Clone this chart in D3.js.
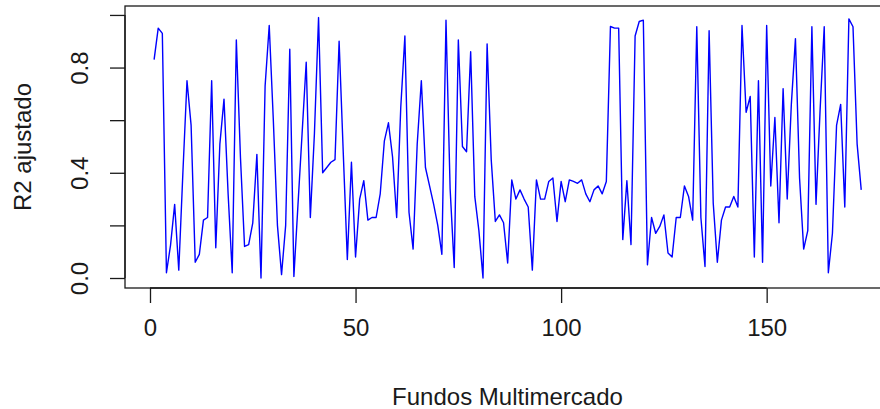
<!DOCTYPE html>
<html>
<head>
<meta charset="utf-8">
<script src="https://cdn.jsdelivr.net/npm/d3@7"></script>
<style>
  html, body { margin: 0; padding: 0; background: #fff; }
  svg { display: block; font-family: "Liberation Sans", Arial, sans-serif; }
</style>
</head>
<body>
<svg id="chart" width="880" height="409"></svg>
<script>
// Adjusted R² of each multimarket fund, in fund order (1..173)
const r2Values = [
  0.83, 0.95, 0.93, 0.02, 0.125, 0.28, 0.03, 0.40, 0.75, 0.58,
  0.06, 0.09, 0.22, 0.23, 0.75, 0.115, 0.51, 0.68, 0.32, 0.02,
  0.905, 0.46, 0.12, 0.127, 0.21, 0.47, 0.00, 0.73, 0.96, 0.60,
  0.20, 0.013, 0.20, 0.87, 0.006, 0.28, 0.55, 0.82, 0.23, 0.55,
  0.99, 0.40, 0.42, 0.44, 0.45, 0.90, 0.48, 0.07, 0.44, 0.08,
  0.30, 0.37, 0.22, 0.23, 0.23, 0.32, 0.52, 0.59, 0.46, 0.23,
  0.65, 0.92, 0.25, 0.11, 0.51, 0.75, 0.42, 0.35, 0.28, 0.20,
  0.09, 0.98, 0.34, 0.04, 0.905, 0.50, 0.48, 0.86, 0.31, 0.18,
  0.00, 0.89, 0.45, 0.215, 0.24, 0.21, 0.057, 0.373, 0.30, 0.335,
  0.30, 0.27, 0.03, 0.373, 0.30, 0.30, 0.367, 0.38, 0.215, 0.367,
  0.29, 0.373, 0.367, 0.36, 0.373, 0.32, 0.29, 0.335, 0.35, 0.32,
  0.367, 0.956, 0.95, 0.95, 0.146, 0.37, 0.127, 0.92, 0.975, 0.98,
  0.05, 0.23, 0.17, 0.196, 0.24, 0.095, 0.08, 0.23, 0.23, 0.35,
  0.31, 0.22, 0.955, 0.23, 0.044, 0.94, 0.285, 0.06, 0.22, 0.27,
  0.27, 0.31, 0.27, 0.96, 0.63, 0.69, 0.08, 0.75, 0.06, 0.96,
  0.35, 0.61, 0.21, 0.72, 0.30, 0.66, 0.91, 0.38, 0.11, 0.18,
  0.955, 0.28, 0.64, 0.955, 0.02, 0.17, 0.58, 0.66, 0.27, 0.985,
  0.955, 0.51, 0.335
];

const xTickValues = [0, 50, 100, 150];
const yTickValues = [0, 0.2, 0.4, 0.6, 0.8, 1.0];
const yLabelValues = [0, 0.4, 0.8];
const xTitle = "Fundos Multimercado";
const yTitle = "R2 ajustado";

const plot = { left: 125, right: 890, top: 6, bottom: 288 };
const tickLen = 15;
const fontSize = 24;
const ink = "#1a1a1a";

const svg = d3.select("#chart");

const x = d3.scaleLinear().domain([-6.08, 180]).range([plot.left, plot.right]);
const y = d3.scaleLinear().domain([-0.038, 1.034]).range([plot.bottom, plot.top]);

// Series line
const line = d3.line()
  .x((d, i) => x(i + 1))
  .y(d => y(d));

svg.append("path")
  .datum(r2Values)
  .attr("d", line)
  .attr("fill", "none")
  .attr("stroke", "#0000ff")
  .attr("stroke-width", 1.4)
  .attr("stroke-linejoin", "round");

// Plot frame
svg.append("rect")
  .attr("x", plot.left)
  .attr("y", plot.top)
  .attr("width", plot.right - plot.left)
  .attr("height", plot.bottom - plot.top)
  .attr("fill", "none")
  .attr("stroke", ink)
  .attr("stroke-width", 1.3);

// Bottom axis
const gx = svg.append("g")
  .attr("transform", `translate(0,${plot.bottom})`)
  .call(d3.axisBottom(x)
    .tickValues(xTickValues)
    .tickSize(tickLen)
    .tickPadding(16)
    .tickFormat(d3.format("d")));
gx.select(".domain").remove();
gx.append("line")
  .attr("x1", x(xTickValues[0])).attr("x2", x(xTickValues[xTickValues.length - 1]))
  .attr("stroke", ink).attr("stroke-width", 1.3);
gx.selectAll(".tick line").attr("stroke", ink).attr("stroke-width", 1.3);
gx.selectAll(".tick text")
  .attr("fill", ink)
  .style("font-size", fontSize + "px")
  .style("font-family", "'Liberation Sans', Arial, sans-serif");

// Left axis, labels drawn parallel to the axis
const gy = svg.append("g")
  .attr("transform", `translate(${plot.left},0)`)
  .call(d3.axisLeft(y)
    .tickValues(yTickValues)
    .tickSize(tickLen)
    .tickFormat(d => yLabelValues.some(v => Math.abs(v - d) < 1e-9) ? d3.format(".1f")(d) : ""));
gy.select(".domain").remove();
gy.append("line")
  .attr("y1", y(yTickValues[0])).attr("y2", y(yTickValues[yTickValues.length - 1]))
  .attr("stroke", ink).attr("stroke-width", 1.3);
gy.selectAll(".tick line").attr("stroke", ink).attr("stroke-width", 1.3);
gy.selectAll(".tick text")
  .attr("x", null).attr("dy", null)
  .attr("text-anchor", "middle")
  .attr("transform", "translate(-37,0) rotate(-90)")
  .attr("fill", ink)
  .style("font-size", fontSize + "px")
  .style("font-family", "'Liberation Sans', Arial, sans-serif");

// Axis titles
svg.append("text")
  .attr("x", (plot.left + plot.right) / 2)
  .attr("y", 405)
  .attr("text-anchor", "middle")
  .attr("fill", ink)
  .style("font-size", fontSize + "px")
  .text(xTitle);

svg.append("text")
  .attr("transform", `translate(31,${(plot.top + plot.bottom) / 2}) rotate(-90)`)
  .attr("text-anchor", "middle")
  .attr("fill", ink)
  .style("font-size", fontSize + "px")
  .text(yTitle);
</script>
</body>
</html>
